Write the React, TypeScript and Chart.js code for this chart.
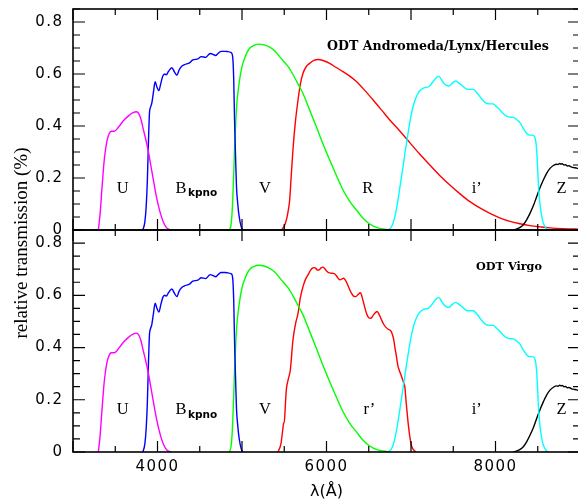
import React, { useEffect, useRef } from 'react';
import { Chart, registerables } from 'chart.js';

Chart.register(...registerables);

// ---------- data (wavelength in Å, relative transmission) ----------
const uWave = [3300, 3320, 3345, 3370, 3400, 3430, 3455, 3490, 3520, 3560, 3610, 3660, 3710, 3750, 3780, 3805, 3830, 3860, 3890, 3920, 3950, 3980, 4010, 4040, 4070, 4100, 4130, 4160];
const uTrans = [0, 0.06, 0.17, 0.27, 0.34, 0.372, 0.38, 0.38, 0.388, 0.405, 0.425, 0.44, 0.451, 0.455, 0.447, 0.425, 0.39, 0.35, 0.305, 0.25, 0.195, 0.14, 0.095, 0.058, 0.03, 0.012, 0.003, 0];

const bWave = [3826, 3850, 3866, 3880, 3893, 3905, 3915, 3932, 3952, 3972, 3993, 4016, 4040, 4063, 4085, 4105, 4130, 4170, 4200, 4229, 4255, 4281, 4320, 4379, 4418, 4478, 4518, 4569, 4624, 4660, 4687, 4720, 4754, 4800, 4833, 4873, 4890, 4902, 4912, 4924, 4935, 4950, 4965, 4990, 5010];
const bTrans = [0, 0.03, 0.09, 0.19, 0.34, 0.45, 0.47, 0.487, 0.53, 0.57, 0.55, 0.536, 0.565, 0.592, 0.6, 0.597, 0.61, 0.624, 0.608, 0.595, 0.615, 0.628, 0.636, 0.643, 0.654, 0.658, 0.667, 0.664, 0.679, 0.675, 0.671, 0.68, 0.687, 0.687, 0.686, 0.682, 0.665, 0.58, 0.42, 0.28, 0.165, 0.1, 0.055, 0.013, 0];

const vWave = [4850, 4870, 4885, 4900, 4912, 4925, 4940, 4960, 4980, 5005, 5031, 5060, 5090, 5140, 5200, 5260, 5327, 5390, 5445, 5500, 5535, 5564, 5600, 5640, 5680, 5722, 5800, 5880, 5960, 6038, 6120, 6196, 6275, 6354, 6430, 6512, 6590, 6670, 6750];
const vTrans = [0, 0.02, 0.08, 0.2, 0.31, 0.41, 0.49, 0.55, 0.595, 0.635, 0.66, 0.683, 0.699, 0.71, 0.715, 0.712, 0.703, 0.688, 0.667, 0.646, 0.633, 0.62, 0.6, 0.576, 0.551, 0.525, 0.462, 0.397, 0.33, 0.269, 0.208, 0.154, 0.11, 0.077, 0.046, 0.023, 0.01, 0.004, 0];

const rWave = [5466, 5500, 5530, 5550, 5564, 5583, 5603, 5630, 5663, 5690, 5722, 5760, 5801, 5850, 5900, 5960, 6038, 6110, 6196, 6275, 6354, 6450, 6552, 6650, 6749, 6870, 6986, 7100, 7223, 7340, 7460, 7580, 7697, 7815, 7934, 8050, 8171, 8290, 8408, 8530, 8645, 8800, 9000];
const rTrans = [0, 0.015, 0.045, 0.08, 0.115, 0.21, 0.308, 0.41, 0.5, 0.56, 0.603, 0.628, 0.641, 0.652, 0.656, 0.652, 0.641, 0.626, 0.609, 0.592, 0.571, 0.538, 0.5, 0.462, 0.423, 0.38, 0.336, 0.293, 0.25, 0.21, 0.173, 0.139, 0.109, 0.085, 0.064, 0.047, 0.033, 0.024, 0.017, 0.012, 0.008, 0.005, 0.003];

const rPrimeWave = [5425, 5460, 5484, 5493, 5500, 5510, 5524, 5545, 5564, 5572, 5603, 5633, 5663, 5690, 5722, 5750, 5781, 5810, 5833, 5850, 5872, 5891, 5911, 5935, 5959, 5985, 6006, 6046, 6085, 6105, 6124, 6145, 6163, 6185, 6203, 6225, 6243, 6270, 6295, 6320, 6346, 6375, 6401, 6420, 6440, 6460, 6480, 6500, 6524, 6560, 6599, 6625, 6651, 6675, 6701, 6730, 6757, 6780, 6796, 6812, 6828, 6845, 6860, 6888, 6910, 6927, 6940, 6955, 6970, 6986, 7005, 7026, 7060];
const rPrimeTrans = [0, 0.03, 0.09, 0.112, 0.112, 0.16, 0.237, 0.275, 0.3, 0.314, 0.429, 0.49, 0.531, 0.59, 0.633, 0.66, 0.678, 0.695, 0.704, 0.706, 0.704, 0.697, 0.697, 0.705, 0.708, 0.7, 0.691, 0.685, 0.684, 0.68, 0.672, 0.662, 0.659, 0.663, 0.665, 0.657, 0.646, 0.625, 0.608, 0.597, 0.595, 0.603, 0.61, 0.595, 0.57, 0.545, 0.525, 0.514, 0.512, 0.527, 0.538, 0.525, 0.506, 0.49, 0.478, 0.47, 0.465, 0.45, 0.429, 0.395, 0.365, 0.33, 0.314, 0.289, 0.268, 0.25, 0.2, 0.148, 0.1, 0.059, 0.025, 0.01, 0];

const iWave = [6728, 6760, 6787, 6815, 6846, 6876, 6906, 6935, 6965, 6995, 7024, 7054, 7084, 7113, 7143, 7172, 7202, 7232, 7262, 7295, 7329, 7360, 7389, 7420, 7448, 7488, 7527, 7560, 7598, 7630, 7658, 7700, 7737, 7775, 7815, 7855, 7894, 7935, 7973, 8010, 8052, 8090, 8131, 8170, 8210, 8250, 8289, 8330, 8368, 8400, 8435, 8460, 8475, 8487, 8497, 8507, 8520, 8535, 8555, 8574, 8600, 8626];
const iTrans = [0, 0.008, 0.026, 0.06, 0.115, 0.18, 0.244, 0.31, 0.372, 0.43, 0.474, 0.505, 0.526, 0.538, 0.545, 0.548, 0.55, 0.558, 0.571, 0.585, 0.592, 0.578, 0.564, 0.556, 0.554, 0.565, 0.573, 0.567, 0.558, 0.548, 0.542, 0.541, 0.541, 0.53, 0.513, 0.497, 0.487, 0.485, 0.485, 0.475, 0.462, 0.448, 0.438, 0.434, 0.433, 0.425, 0.413, 0.39, 0.372, 0.365, 0.365, 0.36, 0.345, 0.308, 0.25, 0.18, 0.12, 0.077, 0.04, 0.02, 0.006, 0];

const zWave = [8210, 8260, 8300, 8329, 8370, 8408, 8450, 8487, 8530, 8566, 8605, 8645, 8685, 8724, 8740, 8760, 8775, 8790, 8810, 8830, 8850, 8870, 8900, 8930, 8960, 9000];
const zTrans = [0, 0.005, 0.012, 0.02, 0.04, 0.064, 0.095, 0.128, 0.165, 0.192, 0.218, 0.237, 0.248, 0.253, 0.252, 0.256, 0.253, 0.255, 0.25, 0.251, 0.246, 0.247, 0.242, 0.24, 0.238, 0.234];

const xTickLabels = [4000, 6000, 8000];
const yTickLabels = [0, 0.2, 0.4, 0.6, 0.8];
const xTickMarks = [3000, 3500, 4000, 4500, 5000, 5500, 6000, 6500, 7000, 7500, 8000, 8500, 9000];
const yTickMarks = [0, 0.05, 0.1, 0.15, 0.2, 0.25, 0.3, 0.35, 0.4, 0.45, 0.5, 0.55, 0.6, 0.65, 0.7, 0.75, 0.8, 0.85];

// filter name labels: [text, wavelength, transmission baseline]
const topFilterLabels: [string, number, number][] = [
  ['U', 3588, 0.144], ['V', 5272, 0.144], ['R', 6488, 0.144], ['i\u2019', 7778, 0.144], ['Z', 8783, 0.144],
];
const bottomFilterLabels: [string, number, number][] = [
  ['U', 3588, 0.144], ['V', 5272, 0.144], ['r\u2019', 6507, 0.144], ['i\u2019', 7778, 0.144], ['Z', 8783, 0.144],
];

const SERIF = '"Liberation Serif", "Times New Roman", serif';
const SANS = '"DejaVu Sans", sans-serif';
const TITLE_FONT = '"DejaVu Serif", serif';

function pts(w: number[], t: number[]) {
  return w.map((x, i) => ({ x, y: t[i] }));
}

function ds(label: string, w: number[], t: number[], color: string) {
  return {
    label,
    data: pts(w, t),
    borderColor: color,
    backgroundColor: color,
    borderWidth: 1.4,
    pointRadius: 0,
    fill: false,
    cubicInterpolationMode: 'monotone' as const,
  };
}

const framePlugin = {
  id: 'frame',
  beforeDraw(chart: any) {
    chart.ctx.letterSpacing = '1.5px';
  },
  afterDatasetsDraw(chart: any) {
    const { ctx, chartArea: a, scales } = chart;
    const xs = scales.x;
    const ys = scales.y;
    ctx.save();
    ctx.strokeStyle = '#000';
    ctx.lineWidth = 1.2;
    ctx.beginPath();
    for (const t of xTickMarks) {
      const px = xs.getPixelForValue(t);
      const len = t % 1000 === 0 ? 11 : 6;
      ctx.moveTo(px, a.bottom);
      ctx.lineTo(px, a.bottom - len);
      ctx.moveTo(px, a.top);
      ctx.lineTo(px, a.top + len);
    }
    for (const t of yTickMarks) {
      const py = ys.getPixelForValue(t);
      const major = Math.abs(t * 5 - Math.round(t * 5)) < 1e-6;
      const len = major ? 12 : 7;
      ctx.moveTo(a.left, py);
      ctx.lineTo(a.left + len, py);
      ctx.moveTo(a.right, py);
      ctx.lineTo(a.right - len, py);
    }
    ctx.stroke();
    ctx.lineWidth = 1.6;
    ctx.strokeRect(a.left, a.top, a.right - a.left, a.bottom - a.top);
    ctx.restore();
  },
};

function fitText(ctx: CanvasRenderingContext2D, text: string, family: string, width: number) {
  ctx.font = `bold 10px ${family}`;
  const w = ctx.measureText(text).width;
  const size = (10 * width) / w;
  ctx.font = `bold ${size.toFixed(2)}px ${family}`;
}

function makeTextPlugin(panel: 'top' | 'bottom') {
  return {
    id: 'texts',
    afterDraw(chart: any) {
      const { ctx, chartArea: a, scales } = chart;
      const xs = scales.x;
      const ys = scales.y;
      ctx.save();
      ctx.letterSpacing = '0px';
      ctx.fillStyle = '#000';
      ctx.textBaseline = 'alphabetic';
      ctx.textAlign = 'center';
      ctx.font = `16.5px ${SERIF}`;
      const labels = panel === 'top' ? topFilterLabels : bottomFilterLabels;
      for (const [txt, lx, ly] of labels) {
        ctx.fillText(txt, xs.getPixelForValue(lx), ys.getPixelForValue(ly));
      }
      // B with kpno subscript
      const bx = xs.getPixelForValue(4213);
      const by = ys.getPixelForValue(0.144);
      ctx.textAlign = 'left';
      ctx.fillText('B', bx, by);
      const bw = ctx.measureText('B').width;
      ctx.font = `bold 10.5px ${SANS}`;
      ctx.fillText('kpno', bx + bw + 1.5, by + 3.5);
      // panel title
      ctx.textAlign = 'center';
      if (panel === 'top') {
        fitText(ctx, 'ODT Andromeda/Lynx/Hercules', TITLE_FONT, 222);
        ctx.fillText('ODT Andromeda/Lynx/Hercules', xs.getPixelForValue(7320), ys.getPixelForValue(0.692));
      } else {
        fitText(ctx, 'ODT Virgo', TITLE_FONT, 66);
        ctx.fillText('ODT Virgo', xs.getPixelForValue(8160), ys.getPixelForValue(0.697));
        // axis titles
        ctx.font = `16px ${SANS}`;
        ctx.textBaseline = 'middle';
        ctx.fillText('\u03BB(\u00C5)', (a.left + a.right) / 2, 492);
        ctx.translate(27, 243);
        ctx.rotate(-Math.PI / 2);
        ctx.textBaseline = 'alphabetic';
        ctx.font = `19px ${SERIF}`;
        ctx.fillText('relative transmission (%)', 0, 0);
      }
      ctx.restore();
    },
  };
}

function makeOptions(panel: 'top' | 'bottom'): any {
  const tickFont = { family: SANS, size: 15 };
  return {
    responsive: false,
    maintainAspectRatio: false,
    animation: false,
    events: [],
    layout: {
      padding: panel === 'top'
        ? { top: 9, right: 20, bottom: 274, left: 0 }
        : { top: 230, right: 20, bottom: 0, left: 0 },
    },
    plugins: { legend: { display: false }, tooltip: { enabled: false }, title: { display: false } },
    scales: {
      x: {
        type: 'linear',
        min: 3000,
        max: 9000,
        display: panel === 'bottom',
        grid: { display: false, drawTicks: false },
        border: { display: false },
        ticks: { font: tickFont, color: '#000', padding: 6, maxRotation: 0, callback: (v: number) => String(v) },
        afterBuildTicks: (s: any) => { s.ticks = xTickLabels.map((value) => ({ value })); },
        afterFit: (s: any) => {
          if (panel === 'bottom') s.height = 52;
          s.paddingLeft = 0;
          s.paddingRight = 0;
        },
      },
      y: {
        type: 'linear',
        min: 0,
        max: 0.85,
        grid: { display: false, drawTicks: false },
        border: { display: false },
        ticks: { font: tickFont, color: '#000', padding: 9.5, callback: (v: number) => String(v) },
        afterBuildTicks: (s: any) => { s.ticks = yTickLabels.map((value) => ({ value })); },
        afterFit: (s: any) => { s.width = 73; s.paddingTop = 0; s.paddingBottom = 0; },
      },
    },
  };
}

function commonSets() {
  return [
    ds('U', uWave, uTrans, '#ff00ff'),
    ds('Bkpno', bWave, bTrans, '#0000ff'),
    ds('V', vWave, vTrans, '#00ff00'),
    ds('i\u2019', iWave, iTrans, '#00ffff'),
    ds('Z', zWave, zTrans, '#000000'),
  ];
}

export default function App() {
  const topRef = useRef<HTMLCanvasElement>(null);
  const botRef = useRef<HTMLCanvasElement>(null);

  useEffect(() => {
    const top = new Chart(topRef.current as HTMLCanvasElement, {
      type: 'line',
      data: { datasets: [...commonSets(), ds('R', rWave, rTrans, '#ff0000')] as any },
      options: makeOptions('top'),
      plugins: [framePlugin, makeTextPlugin('top')],
    });
    const bottom = new Chart(botRef.current as HTMLCanvasElement, {
      type: 'line',
      data: { datasets: [...commonSets(), ds('r\u2019', rPrimeWave, rPrimeTrans, '#ff0000')] as any },
      options: makeOptions('bottom'),
      plugins: [framePlugin, makeTextPlugin('bottom')],
    });
    return () => {
      top.destroy();
      bottom.destroy();
    };
  }, []);

  const canvasStyle: React.CSSProperties = { position: 'absolute', left: 0, top: 0, width: 600, height: 504 };
  return (
    <div style={{ position: 'fixed', left: 0, top: 0, width: 578, height: 504, overflow: 'hidden', background: '#fff' }}>
      <canvas ref={topRef} width={600} height={504} style={canvasStyle} />
      <canvas ref={botRef} width={600} height={504} style={canvasStyle} />
    </div>
  );
}
